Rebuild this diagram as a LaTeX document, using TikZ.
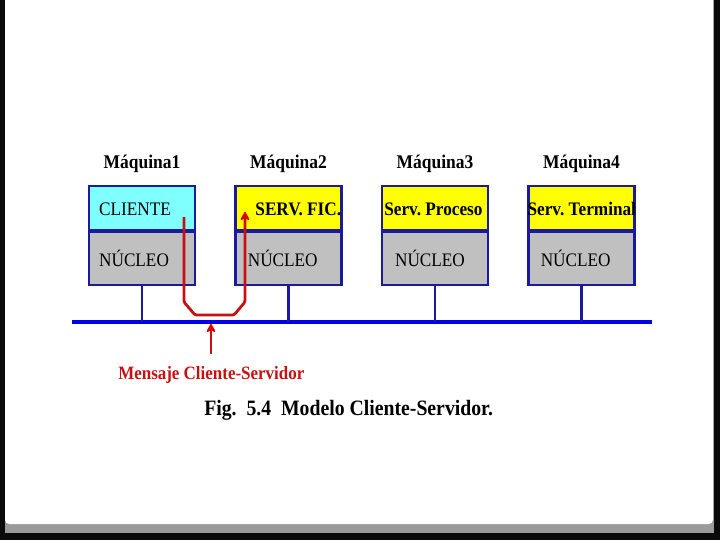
\documentclass[tikz,border=0pt]{standalone}
\usepackage{fontspec}
\setmainfont{Liberation Serif}
\newfontfamily\slidefont[FakeStretch=0.9]{Liberation Serif}
\usetikzlibrary{arrows.meta,positioning}
\definecolor{Frame}{HTML}{0A0A0A}
\definecolor{Shade}{HTML}{9A9A9A}
\definecolor{Navy}{HTML}{1A1AA0}
\definecolor{BusBlue}{HTML}{0000E6}
\definecolor{Client}{HTML}{80FFFF}
\definecolor{Server}{HTML}{FFFF00}
\definecolor{Kernel}{HTML}{C0C0C0}
\definecolor{MsgRed}{HTML}{C81010}
\definecolor{TipRed}{HTML}{E00000}
\tikzset{
  upper/.style={draw=Navy,line width=1.6pt,minimum width=2.65cm,minimum height=1.1cm,inner sep=0pt},
  lower/.style={draw=Navy,line width=1.6pt,fill=Kernel,minimum width=2.65cm,minimum height=1.325cm,inner sep=0pt},
  txt/.style={inner sep=0pt,font=\slidefont\fontsize{13.6}{15}\selectfont,text=black},
  srv/.style={txt,font=\slidefont\fontsize{13.6}{15}\selectfont\bfseries},
  title/.style={inner sep=0pt,font=\slidefont\fontsize{13.8}{15}\selectfont\bfseries,text=black},
  drop/.style={draw=Navy,line width=1.5pt},
  bus/.style={draw=BusBlue,line width=3.2pt},
  msg/.style={draw=MsgRed,line width=2pt,-{Stealth[length=2.6mm,width=2.8mm,round,color=TipRed]}}
}

\begin{document}
\frenchspacing
\begin{tikzpicture}[x=0.025cm,y=-0.025cm,node distance=0.955cm]
  \useasboundingbox (0,0) rectangle (720,540);
  % slide page
  \fill[Frame] (0,0) rectangle (720,540);
  \fill[Shade] (5,0) rectangle (714,533);
  \fill[white,rounded corners=3pt] (5,-5) rectangle (713,524);

  % machines
  \node[upper,fill=Client] (up1) at (142,208) {};
  \node[upper,fill=Server,right=of up1] (up2) {};
  \node[upper,fill=Server,right=of up2] (up3) {};
  \node[upper,fill=Server,right=of up3] (up4) {};
  \node[lower,below=0pt of up1] (low1) {};
  \node[lower,below=0pt of up2] (low2) {};
  \node[lower,below=0pt of up3] (low3) {};
  \node[lower,below=0pt of up4] (low4) {};

  \node[txt,right=0.275cm of up1.west,yshift=-1pt] (cli) {CLIENTE};
  \node[srv,right=0.52cm of up2.west,yshift=-1pt] (fic) {SERV. FIC.};
  \node[srv,right=0.08cm of up3.west,yshift=-1pt] (proc) {Serv. Proceso};
  \node[srv,right=0cm of up4.west,yshift=-1pt] (term) {Serv. Terminal};
  \node[txt,right=0.275cm of low1.west] (nuc1) {NÚCLEO};
  \node[txt,right=0.33cm of low2.west] (nuc2) {NÚCLEO};
  \node[txt,right=0.35cm of low3.west] (nuc3) {NÚCLEO};
  \node[txt,right=0.33cm of low4.west] (nuc4) {NÚCLEO};

  \foreach \i in {1,...,4}
    \node[title,above=0.3cm of up\i] (maq\i) {Máquina\i};

  % network
  \coordinate (busL) at (72,322);
  \coordinate (busR) at (652,322);
  \draw[bus] (busL) -- (busR);
  \foreach \i in {1,...,4}
    \draw[drop] (low\i.south) -- (low\i.south |- busL);

  % message
  \coordinate (src) at (184,217);
  \coordinate (dst) at (245,212);
  \draw[msg,rounded corners=1pt] (src) -- (184,302) -- (195,315) -- (234,315) -- (245,302) -- (dst);
  \coordinate (tail) at (211,354);
  \coordinate (tip) at (211,324);
  \draw[msg] (tail) -- (tip);
  \node[title,font=\slidefont\fontsize{13.4}{15}\selectfont\bfseries,text=MsgRed,anchor=west] (lbl) at (118,375) {Mensaje Cliente-Servidor};
  \node[title,font=\slidefont\fontsize{15.6}{17}\selectfont\bfseries,anchor=west] (fig) at (204,410) {Fig.~~5.4~~Modelo Cliente-Servidor.};
\end{tikzpicture}
\end{document}
